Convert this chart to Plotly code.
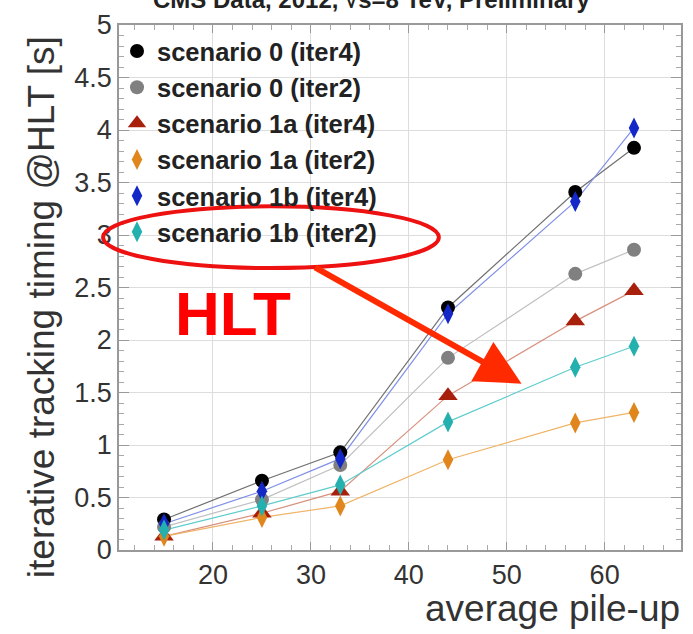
import plotly.graph_objects as go

# ---------------- data ----------------
pileup = [15, 25, 33, 44, 57, 63]
s0_iter4 = [0.29, 0.66, 0.93, 2.31, 3.41, 3.83]
s0_iter2 = [0.22, 0.48, 0.81, 1.83, 2.63, 2.86]
s1a_iter4 = [0.13, 0.35, 0.56, 1.47, 2.18, 2.47]
s1a_iter2 = [0.13, 0.31, 0.42, 0.86, 1.21, 1.31]
s1b_iter4 = [0.25, 0.56, 0.87, 2.25, 3.32, 4.02]
s1b_iter2 = [0.19, 0.42, 0.62, 1.22, 1.74, 1.94]

series_names = ["scenario 0 (iter4)", "scenario 0 (iter2)", "scenario 1a (iter4)",
                "scenario 1a (iter2)", "scenario 1b (iter4)", "scenario 1b (iter2)"]
series_values = [s0_iter4, s0_iter2, s1a_iter4, s1a_iter2, s1b_iter4, s1b_iter2]

x_tickvals = [20, 30, 40, 50, 60]
y_tickvals = [0, 0.5, 1, 1.5, 2, 2.5, 3, 3.5, 4, 4.5, 5]
y_ticktext = ["0", "0.5", "1", "1.5", "2", "2.5", "3", "3.5", "4", "4.5", "5"]

# ---------------- styles ----------------
marker_colors = ["#000000", "#808080", "#a8200c", "#e0861c", "#1428c8", "#25b0b0"]
line_colors = ["#707070", "#c0c0c0", "#d8907e", "#f0b468", "#8090e8", "#60cccc"]
symbols = ["circle", "circle", "triangle-up", "diamond-tall", "diamond-tall", "diamond-tall"]
sizes = [14, 14, 17, 15, 15, 15]

FONT = "Liberation Sans"

fig = go.Figure()

# connecting lines (no legend)
for name, vals, lc in zip(series_names, series_values, line_colors):
    fig.add_trace(go.Scatter(x=pileup, y=vals, mode="lines",
                             line=dict(color=lc, width=1.2),
                             showlegend=False, hoverinfo="skip"))
# markers (legend)
for name, vals, mc, sym, sz in zip(series_names, series_values, marker_colors, symbols, sizes):
    fig.add_trace(go.Scatter(x=pileup, y=vals, mode="markers", name=name,
                             marker=dict(color=mc, symbol=sym, size=sz,
                                         line=dict(width=0))))

W, H = 693, 634
L, R, T, B = 119, 10, 23, 84
pw = W - L - R
ph = H - T - B


def px2paper(px, py):
    return (px - L) / pw, (H - B - py) / ph


fig.update_layout(
    width=W, height=H,
    margin=dict(l=L, r=R, t=T, b=B),
    paper_bgcolor="white", plot_bgcolor="white",
    font=dict(family=FONT, color="#333333"),
    showlegend=True,
    legend=dict(x=px2paper(117, 0)[0], y=px2paper(0, 26)[1], xanchor="left", yanchor="top",
                bgcolor="rgba(0,0,0,0)", borderwidth=0,
                font=dict(family=FONT, size=25.5, color="#222222", weight="bold"),
                itemwidth=30, tracegroupgap=0),
    xaxis=dict(range=[10.4, 67.8], tickvals=x_tickvals, ticks="inside", ticklen=8,
               tickcolor="#999999", tickwidth=1,
               minor=dict(dtick=2, tick0=0, ticks="inside", ticklen=5, tickcolor="#aaaaaa",
                          showgrid=False),
               showline=True, linecolor="#999999", linewidth=1.5, mirror="ticks",
               showgrid=True, gridcolor="#dddddd", gridwidth=1.3, zeroline=False,
               tickfont=dict(family=FONT, size=27, color="#333333")),
    yaxis=dict(range=[0, 5], tickvals=y_tickvals, ticktext=y_ticktext, ticks="inside",
               ticklen=10, tickcolor="#999999", tickwidth=1,
               minor=dict(dtick=0.1, tick0=0, ticks="inside", ticklen=5, tickcolor="#aaaaaa",
                          showgrid=False),
               showline=True, linecolor="#999999", linewidth=1.5, mirror="ticks",
               showgrid=True, gridcolor="#dddddd", gridwidth=1.3, zeroline=False,
               tickfont=dict(family=FONT, size=27, color="#333333")),
)

# axis titles as annotations
ytx, yty = px2paper(42, 306)
xtx, xty = px2paper(684, 609)
ttx, tty = px2paper(372, 13)
hx, hy = px2paper(233, 313)
tipx, tipy = px2paper(523, 383)

fig.add_annotation(x=ytx, y=yty, xref="paper", yref="paper", showarrow=False,
                   text="iterative tracking timing @HLT [s]", textangle=-90,
                   xanchor="center", yanchor="middle",
                   font=dict(family=FONT, size=37, color="#333333"))
fig.add_annotation(x=xtx, y=xty, xref="paper", yref="paper", showarrow=False,
                   text="average pile-up", xanchor="right", yanchor="middle",
                   font=dict(family=FONT, size=37, color="#333333"))
# header line (cut off at the top edge, as in the source image)
fig.add_annotation(x=ttx, y=tty, xref="paper", yref="paper", showarrow=False,
                   text="CMS Data, 2012, √s=8 TeV, Preliminary", xanchor="center", yanchor="bottom",
                   font=dict(family=FONT, size=24, color="#222222", weight="bold"))
# HLT label
fig.add_annotation(x=hx, y=hy, xref="paper", yref="paper", showarrow=False,
                   text="HLT", xanchor="center", yanchor="middle",
                   font=dict(family=FONT, size=62, color="#ff0000", weight="bold"))
# arrow
fig.add_annotation(x=tipx, y=tipy, xref="paper", yref="paper", showarrow=True,
                   text="", ax=315 - 523, ay=266 - 383, axref="pixel", ayref="pixel",
                   arrowhead=2, arrowsize=1.5, arrowwidth=6, arrowcolor="#ff2a00")

# ellipse around legend entry
ex0, ey0 = px2paper(103, 267)
ex1, ey1 = px2paper(440, 205)
fig.add_shape(type="circle", xref="paper", yref="paper", x0=ex0, y0=ey0, x1=ex1, y1=ey1,
              line=dict(color="#ee1111", width=4), layer="above")

fig.write_html("out.html")
